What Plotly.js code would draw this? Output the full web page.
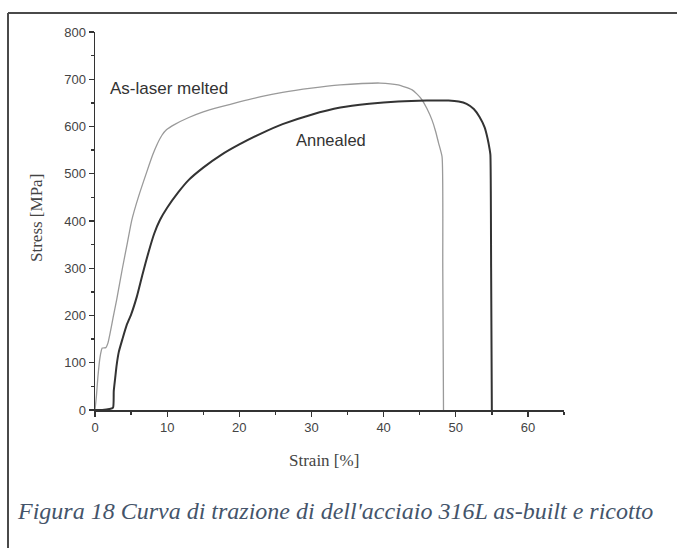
<!DOCTYPE html>
<html>
<head>
<meta charset="utf-8">
<script src="https://cdn.plot.ly/plotly-3.0.1.min.js"></script>
<style>html,body{margin:0;padding:0;background:#fff;overflow:hidden;}#chart{width:677px;height:548px;}</style>
</head>
<body>
<div id="chart"></div>
<script>
// As-laser melted curve (strain %, stress MPa)
const laserStrain = [0, 0.2, 0.4, 0.7, 1.0, 1.5, 1.8, 2.1, 2.5, 3.0, 3.8, 4.5, 5.1, 6.0, 7.2, 8.0, 8.6, 9.3, 9.9, 11, 13, 15, 17.5, 20, 23, 26, 30, 34, 37, 39.5, 42, 43.9, 44.6, 45.3, 46.0, 46.7, 47.2, 47.6, 48.1, 48.2, 48.3];
const laserStress = [0, 30, 70, 112, 131, 132, 142, 163, 195, 233, 300, 355, 402, 450, 505, 540, 562, 582, 593, 604, 619, 631, 642, 652, 663, 672, 681, 688, 691, 692, 688, 678, 669, 657, 638, 614, 590, 566, 536, 300, 0];
// Annealed curve
const annealStrain = [0, 1, 2, 2.5, 2.6, 2.8, 3.0, 3.3, 3.8, 4.4, 5.0, 5.8, 6.6, 7.4, 8.2, 9.0, 10, 11.5, 13, 15, 17.5, 20, 23, 26, 30, 34, 38, 42, 46, 49, 50.4, 51.5, 52.5, 53.3, 54.0, 54.4, 54.7, 54.8, 54.9, 55.0];
const annealStress = [0, 0, 2, 5, 40, 68, 95, 123, 150, 180, 202, 240, 288, 333, 373, 402, 428, 460, 487, 513, 540, 562, 585, 605, 625, 640, 648, 653, 655, 655, 653, 648, 637, 620, 598, 575, 551, 540, 300, 0];

const xTickVals = [0, 10, 20, 30, 40, 50, 60];
const yTickVals = [0, 100, 200, 300, 400, 500, 600, 700, 800];
const seriesNames = ["As-laser melted", "Annealed"];
const axisTitles = {x: "Strain [%]", y: "Stress [MPa]"};
const captionText = "Figura 18 Curva di trazione di dell'acciaio 316L as-built e ricotto";

const traces = [
  {x: laserStrain, y: laserStress, mode: "lines", name: seriesNames[0],
   line: {color: "#9a9a9a", width: 1.3, shape: "spline", smoothing: 0.5}},
  {x: annealStrain, y: annealStress, mode: "lines", name: seriesNames[1],
   line: {color: "#333333", width: 2, shape: "spline", smoothing: 0.5}}
];

const L = 95, R = 564, T = 32, B = 410;
const W = R - L, H = B - T;
const px = v => (v - L) / W;
const py = v => (B - v) / H;

const layout = {
  width: 677, height: 548,
  margin: {l: L, r: 677 - R, t: T, b: 548 - B},
  paper_bgcolor: "#ffffff", plot_bgcolor: "#ffffff",
  showlegend: false,
  font: {family: "Liberation Sans, Arial, sans-serif", color: "#333"},
  xaxis: {
    range: [0, 65], showgrid: false, zeroline: false,
    showline: true, linecolor: "#333", linewidth: 1.5,
    ticks: "outside", ticklen: 5, tickwidth: 1.3, tickcolor: "#333",
    tickvals: xTickVals, tickfont: {size: 13, color: "#444"},
    minor: {tickvals: [5, 15, 25, 35, 45, 55, 65], ticks: "outside", ticklen: 3, tickwidth: 1.3, tickcolor: "#333"}
  },
  yaxis: {
    range: [0, 800], showgrid: false, zeroline: false,
    showline: true, linecolor: "#333", linewidth: 1.5,
    ticks: "outside", ticklen: 5, tickwidth: 1.3, tickcolor: "#333",
    tickvals: yTickVals, tickfont: {size: 13, color: "#444"},
    minor: {tickvals: [50, 150, 250, 350, 450, 550, 650, 750], ticks: "outside", ticklen: 3, tickwidth: 1.3, tickcolor: "#333"}
  },
  shapes: [
    {type: "line", xref: "paper", yref: "paper", x0: px(8), x1: px(690), y0: py(13), y1: py(13),
     line: {color: "#4a4a4a", width: 2}},
    {type: "line", xref: "paper", yref: "paper", x0: px(8), x1: px(8), y0: py(13), y1: py(560),
     line: {color: "#4a4a4a", width: 2}}
  ],
  annotations: [
    {text: seriesNames[0], x: 10.2, y: 680, xref: "x", yref: "y", showarrow: false,
     font: {family: "Liberation Sans, Arial", size: 17, color: "#333"}},
    {text: seriesNames[1], x: 32.7, y: 572, xref: "x", yref: "y", showarrow: false,
     font: {family: "Liberation Sans, Arial", size: 16.5, color: "#333"}},
    {text: axisTitles.x, x: px(324), y: py(460), xref: "paper", yref: "paper", showarrow: false,
     xanchor: "center", yanchor: "middle",
     font: {family: "Liberation Serif, Times New Roman, serif", size: 17, color: "#444"}},
    {text: axisTitles.y, x: px(36), y: py(218), xref: "paper", yref: "paper", showarrow: false,
     textangle: -90, xanchor: "center", yanchor: "middle",
     font: {family: "Liberation Serif, Times New Roman, serif", size: 17, color: "#444"}},
    {text: "<i>" + captionText + "</i>", x: px(15), y: py(511), xref: "paper", yref: "paper", showarrow: false,
     xanchor: "left", yanchor: "middle",
     font: {family: "Liberation Serif, Times New Roman, serif", size: 24, color: "#44546a"}}
  ]
};

Plotly.newPlot("chart", traces, layout, {staticPlot: true, displayModeBar: false});
</script>
</body>
</html>
